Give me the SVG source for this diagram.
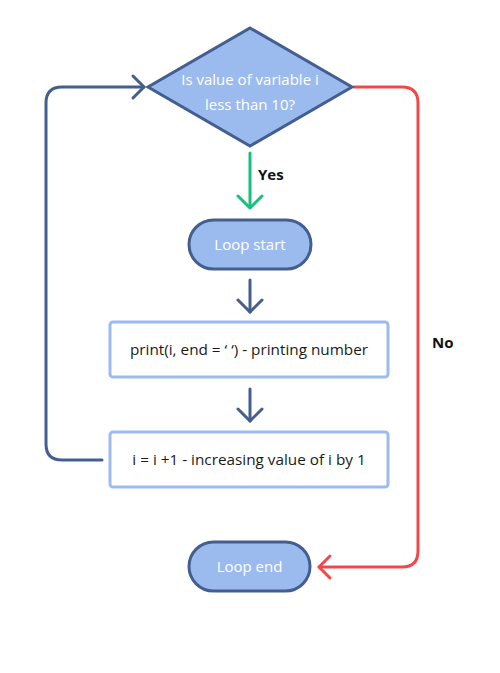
<svg xmlns="http://www.w3.org/2000/svg" width="500" height="673" viewBox="0 0 500 673">
<style>
.term{fill:#9bbbee;stroke:#435e8f;stroke-width:3}
.box{fill:#fff;stroke:#9dbbef;stroke-width:3}
.wt{font-family:"Open Sans","Noto Sans",sans-serif;font-size:15px;fill:#fff;text-anchor:middle}
.dt{font-family:"Open Sans","Noto Sans",sans-serif;font-size:15.3px;fill:#1a1a1a;text-anchor:middle}
.lbl{font-family:"Open Sans","Noto Sans",sans-serif;font-size:15px;font-weight:bold;fill:#111}
.c{fill:none;stroke-width:3;stroke-linecap:round;stroke-linejoin:round}
.blue{stroke:#435e8f}
.red{stroke:#f2484b}
.green{stroke:#18c07e}
</style>
<rect width="500" height="673" fill="#fff"/>
<g id="connectors">
<path class="c green" d="M250 153 V207"/>
<path class="c green" d="M238 196 L250 208 L262 196"/>
<path class="c blue" d="M250 280 V312"/>
<path class="c blue" d="M238 300 L250 312 L262 300"/>
<path class="c blue" d="M250 389 V421"/>
<path class="c blue" d="M238 409 L250 421 L262 409"/>
<path class="c blue" d="M102 460 H62 Q46 460 46 444 V103 Q46 87 62 87 H144"/>
<path class="c blue" d="M133 76 L144 87 L133 98"/>
<path class="c red" d="M354 87 H402 Q418 87 418 103 V551 Q418 567 402 567 H319"/>
<path class="c red" d="M330 556 L319 567 L330 578"/>
<text class="lbl" x="258" y="180">Yes</text>
<text class="lbl" x="432" y="348">No</text>
</g>
<g id="decision">
<path class="term" d="M250 28 L352 87 L250 146 L148 87 Z"/>
<text class="wt" x="250" y="85">Is value of variable i</text>
<text class="wt" x="250" y="110">less than 10?</text>
</g>
<g id="loop-start">
<rect class="term" x="189" y="220" width="122" height="49" rx="24.5"/>
<text class="wt" x="250" y="250">Loop start</text>
</g>
<g id="print">
<rect class="box" x="110" y="322" width="278" height="55" rx="3"/>
<text class="dt" x="249" y="355">print(i, end = ‘ ‘) - printing number</text>
</g>
<g id="increment">
<rect class="box" x="110" y="432" width="278" height="55" rx="3"/>
<text class="dt" x="249" y="465">i = i +1 - increasing value of i by 1</text>
</g>
<g id="loop-end">
<rect class="term" x="189" y="542" width="121" height="49" rx="24.5"/>
<text class="wt" x="249.5" y="572">Loop end</text>
</g>
</svg>
